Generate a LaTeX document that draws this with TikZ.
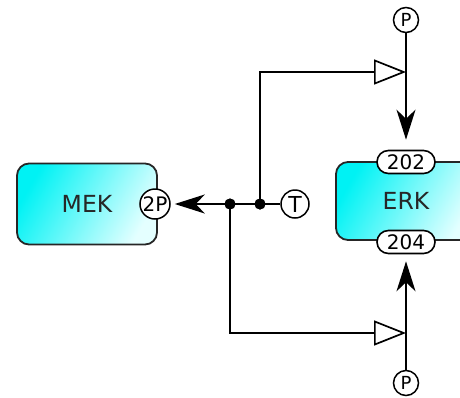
\documentclass[tikz,border=0pt]{standalone}
\usepackage{fontspec}
\setmainfont{DejaVu Sans}
\usetikzlibrary{arrows.meta,shapes.misc}
\definecolor{cyA}{HTML}{00F2F4}
\definecolor{cyM}{HTML}{70F8FA}
\definecolor{cyB}{HTML}{E4FFFF}
\tikzset{
  x=1pt, y=-1pt,
  protein/.style={draw=black!85, line width=1.8pt, rounded corners=12pt,
    minimum width=140pt, minimum height=81pt, inner sep=0pt,
    top color=cyA, middle color=cyM, bottom color=cyB, shading angle=60,
    font=\fontsize{23.5}{24}\selectfont, text=black!85},
  site/.style={draw=black, line width=1.6pt, fill=white, rounded rectangle,
    minimum width=58pt, minimum height=23pt, inner sep=0pt,
    font=\fontsize{20}{20}\selectfont},
  modc/.style={draw=black, line width=1.5pt, fill=white, circle, inner sep=0pt,
    font=\fontsize{18}{18}\selectfont},
  dotn/.style={circle, fill=black, inner sep=0pt, minimum size=11pt},
  conn/.style={line width=1.9pt, draw=black},
  stim/.style={conn, -{Stealth[length=30pt, width=19pt, inset=9pt]}},
  catal/.style={conn, -{Triangle[open, fill=white, length=32pt, width=25pt, line width=1.7pt]}},
}
\begin{document}
\begin{tikzpicture}
\useasboundingbox (0,0) rectangle (460,397);
\clip (0,0) rectangle (460,397);
% proteins
\node[protein] (mek) at (87,204) {MEK};
\node[protein, minimum height=78pt] (erk) at (406,201) {ERK};
% sites
\node[modc, minimum size=30pt, font=\fontsize{20}{20}\selectfont] (p2) at (155,204) {2P};
\node[site] (s202) at (406,162) {202};
\node[site] (s204) at (406,242) {204};
% modifiers
\node[modc, minimum size=28pt, font=\fontsize{22}{22}\selectfont] (tt) at (295,204) {T};
\node[modc, minimum size=25pt] (ptop) at (406,20) {P};
\node[modc, minimum size=25pt] (pbot) at (406,383) {P};
% junction dots
\node[dotn] (d1) at (230,204) {};
\node[dotn] (d2) at (260,204) {};
\coordinate (c1) at (406,72);
\coordinate (c2) at (406,333);
% connectors
\draw[stim, shorten >=4pt] (tt) -- (p2);
\draw[stim, shorten >=10pt] (ptop) -- (s202);
\draw[stim, shorten >=7pt] (pbot) -- (s204);
\draw[catal] (d2.center) |- (c1);
\draw[catal] (d1.center) |- (c2);
\node[dotn] at (d1) {};
\node[dotn] at (d2) {};
\end{tikzpicture}
\end{document}
